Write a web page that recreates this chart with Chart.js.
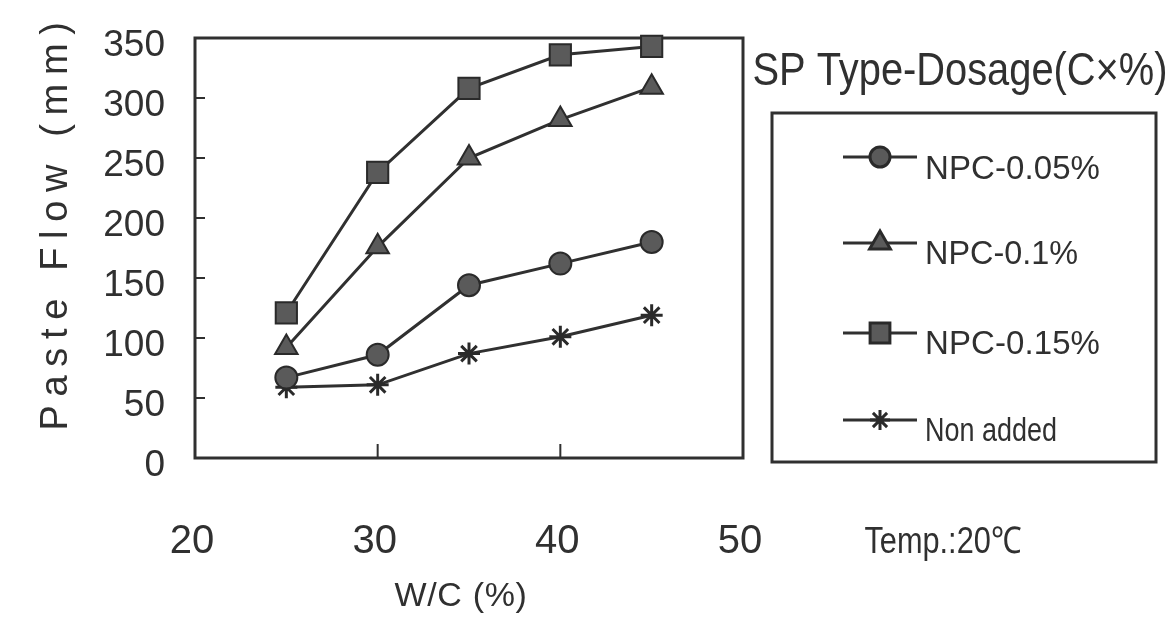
<!DOCTYPE html>
<html><head><meta charset="utf-8">
<script src="https://cdn.jsdelivr.net/npm/chart.js@4.4.0/dist/chart.umd.min.js"></script>
<style>html,body{margin:0;padding:0;background:#fff}#wrap{width:1176px;height:619px}</style>
</head><body><div id="wrap"><canvas id="c" width="1176" height="619"></canvas></div>
<script>
// W/C (%) on x, paste flow (mm) on y
const wcPct=[25,30,35,40,45];
const npc005=[67,86,144,162,180];
const npc01=[92,176,250,282,309];
const npc015=[121,238,308,336,343];
const nonAdded=[59,61,87,101,119];
const seriesLabels=['NPC-0.05%','NPC-0.1%','NPC-0.15%','Non added'];
const xTicks=[20,30,40,50];
const yTicks=[0,50,100,150,200,250,300,350];
const legendTitle='SP Type-Dosage(C×%)';
const xTitle='W/C (%)';
const yTitle='Paste Flow (mm)';
const note='Temp.:20℃';

const INK='#303030';
const FONT='"Liberation Sans", Arial, sans-serif';
const marks=[{s:'circle',r:11},{s:'triangle',r:13},{s:'rect',r:15},{s:'star',r:11}];

// draws text centred at cx,cy and stretched/squeezed to width w
function fitText(ctx,txt,cx,cy,size,w,rot){
  ctx.save();
  ctx.font=size+'px '+FONT;
  ctx.fillStyle=INK;
  ctx.textBaseline='middle';
  ctx.textAlign='left';
  ctx.translate(cx,cy);
  if(rot) ctx.rotate(rot);
  let m=ctx.measureText(txt).width;
  if(w>m){
    ctx.letterSpacing=((w-m)/txt.length)+'px';
    m=ctx.measureText(txt).width;
    ctx.fillText(txt,-m/2,0);
  }else{
    ctx.scale(w/m,1);
    ctx.fillText(txt,-m/2,0);
  }
  ctx.restore();
}

const frame={
  id:'frame',
  beforeDatasetsDraw(chart){
    const {ctx,chartArea:a,scales}=chart;
    ctx.save();
    ctx.strokeStyle=INK;ctx.lineWidth=3;
    ctx.strokeRect(a.left,a.top,a.right-a.left,a.bottom-a.top);
    ctx.lineWidth=2;ctx.beginPath();
    yTicks.slice(1,-1).forEach(v=>{const y=scales.y.getPixelForValue(v);ctx.moveTo(a.left,y);ctx.lineTo(a.left+10,y);});
    xTicks.slice(1,-1).forEach(v=>{const x=scales.x.getPixelForValue(v);ctx.moveTo(x,a.bottom);ctx.lineTo(x,a.bottom-14);});
    ctx.stroke();
    ctx.restore();
  },
  afterDraw(chart){
    const ctx=chart.ctx;
    fitText(ctx,yTitle,57,222,38,417,-Math.PI/2);
    fitText(ctx,xTitle,461,597,34,133);
    fitText(ctx,legendTitle,960,72,46,415);
    fitText(ctx,note,943,543,37,157);
    // legend box
    ctx.save();
    ctx.strokeStyle=INK;ctx.lineWidth=3;
    ctx.strokeRect(772,113,384,349);
    const rows=[{ly:157,ty:170,w:175},{ly:243,ty:255,w:153},{ly:333,ty:345,w:175},{ly:420,ty:432,w:132}];
    rows.forEach((r,i)=>{
      ctx.strokeStyle=INK;ctx.lineWidth=3;
      ctx.beginPath();ctx.moveTo(843,r.ly);ctx.lineTo(917,r.ly);ctx.stroke();
      ctx.fillStyle='#5a5a5a';ctx.strokeStyle='#2a2a2a';
      Chart.helpers.drawPoint(ctx,{pointStyle:marks[i].s,radius:marks[i].r-1,borderWidth:i===3?3:2,rotation:0},880,r.ly);
      fitText(ctx,seriesLabels[i],925+r.w/2,r.ty,33,r.w);
    });
    ctx.restore();
  }
};

const series=[npc005,npc01,npc015,nonAdded];
new Chart(document.getElementById('c'),{
  type:'line',
  data:{datasets:series.map((vals,i)=>({
    label:seriesLabels[i],
    data:vals.map((v,j)=>({x:wcPct[j],y:v})),
    borderColor:INK,borderWidth:3,tension:0,clip:false,
    pointStyle:marks[i].s,pointRadius:marks[i].r,
    pointBackgroundColor:'#5a5a5a',pointBorderColor:'#2a2a2a',pointBorderWidth:i===3?3:2
  }))},
  options:{
    responsive:false,animation:false,
    layout:{padding:{top:38,right:433,bottom:0,left:0}},
    plugins:{legend:{display:false},tooltip:{enabled:false}},
    scales:{
      x:{type:'linear',min:20,max:50,
        afterBuildTicks:s=>{s.ticks=xTicks.map(v=>({value:v}));},
        afterFit:s=>{s.height=161;s.paddingLeft=0;s.paddingRight=0;},
        grid:{display:false,drawTicks:false},border:{display:false},
        ticks:{font:{size:40,family:FONT},color:INK,padding:60,labelOffset:-3,maxRotation:0,autoSkip:false}},
      y:{min:0,max:350,
        afterBuildTicks:s=>{s.ticks=yTicks.map(v=>({value:v}));},
        afterFit:s=>{s.width=195;s.paddingTop=0;s.paddingBottom=0;},
        grid:{display:false,drawTicks:false},border:{display:false},
        ticks:{font:{size:37,family:FONT},color:INK,padding:30,labelOffset:8,autoSkip:false}}
    }
  },
  plugins:[frame]
});
</script>
</body></html>
